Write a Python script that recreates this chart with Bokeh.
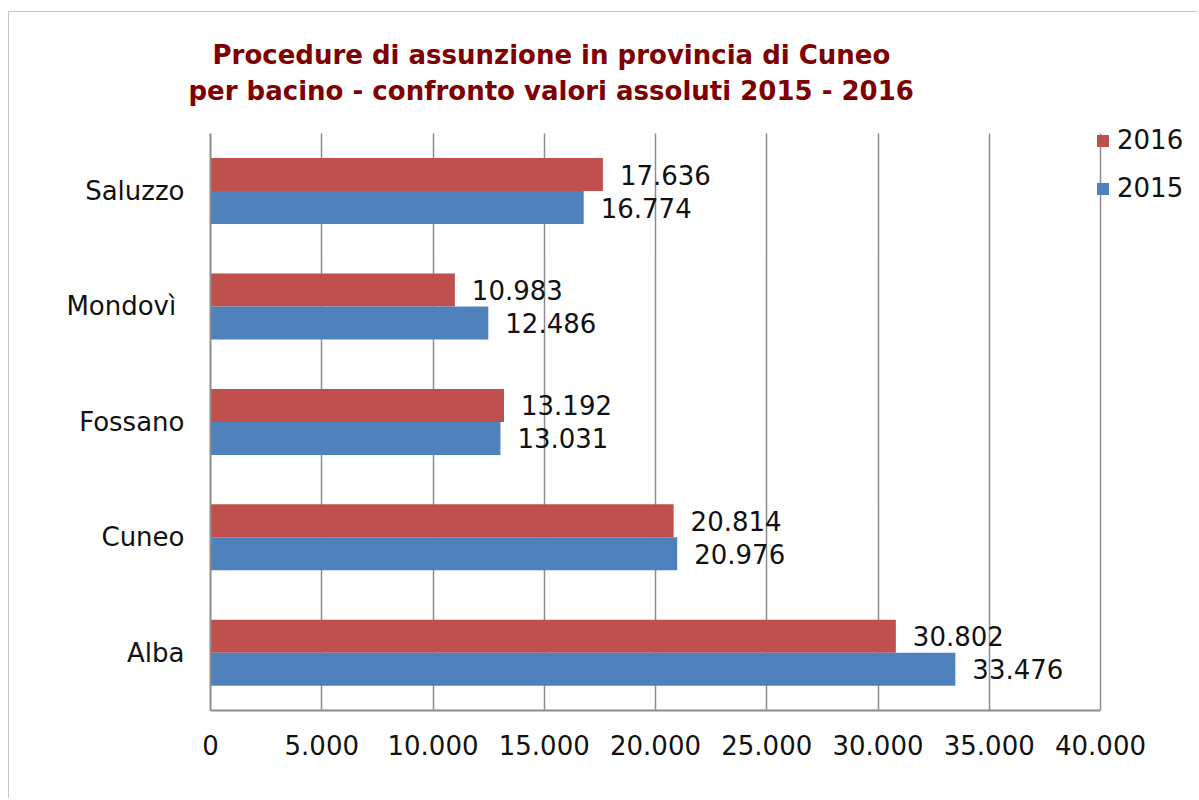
from bokeh.plotting import figure
from bokeh.models import (ColumnDataSource, Range1d, Legend, LegendItem,
                          CustomJSTickFormatter, Title, FixedTicker)
from bokeh.core.properties import value
from bokeh.transform import dodge
from bokeh.embed import file_html
from bokeh.resources import INLINE

categories = ["Alba", "Cuneo", "Fossano", "Mondovì ", "Saluzzo"]
values_2016 = [30802, 20814, 13192, 10983, 17636]
values_2015 = [33476, 20976, 13031, 12486, 16774]
x_ticks = [0, 5000, 10000, 15000, 20000, 25000, 30000, 35000, 40000]
title_lines = ["Procedure di assunzione in provincia di Cuneo",
               "per bacino - confronto valori assoluti 2015 - 2016"]

def fmt(v):
    return f"{v:,}".replace(",", ".")

ypos = list(range(len(categories)))
src = ColumnDataSource(dict(
    y=ypos,
    v16=values_2016,
    v15=values_2015,
    l16=[fmt(v) for v in values_2016],
    l15=[fmt(v) for v in values_2015],
))

FONT = "DejaVu Sans"
RED = "#C0504D"
BLUE = "#4F81BD"
GRID = "#8c8c8c"
FS = "26px"

p = figure(width=1189, height=787, output_backend="svg", toolbar_location=None,
           y_range=Range1d(-0.5, 4.62), x_range=Range1d(0, 44000),
           min_border_left=201, min_border_right=9, min_border_top=107, min_border_bottom=89)
p.margin = (11, 0, 0, 8)
p.outline_line_color = None
p.styles = {"border-top": "1px solid #c4c4c4", "border-left": "1px solid #c4c4c4",
            "box-sizing": "border-box"}

bar_h = 0.286
off = 0.143
r16 = p.hbar(y=dodge("y", off), right="v16", left=0, height=bar_h,
             source=src, fill_color=RED, line_color=None)
r15 = p.hbar(y=dodge("y", -off), right="v15", left=0, height=bar_h,
             source=src, fill_color=BLUE, line_color=None)

p.text(x="v16", y=dodge("y", off), text="l16", source=src,
       x_offset=17, text_baseline="middle", text_align="left",
       text_font=value(FONT), text_font_size=value(FS), text_color="#111111")
p.text(x="v15", y=dodge("y", -off), text="l15", source=src,
       x_offset=17, text_baseline="middle", text_align="left",
       text_font=value(FONT), text_font_size=value(FS), text_color="#111111")

p.xaxis.ticker = FixedTicker(ticks=x_ticks)
p.xaxis.bounds = (x_ticks[0], x_ticks[-1])
p.xaxis.formatter = CustomJSTickFormatter(
    code="return Math.round(tick).toString().replace(/\\B(?=(\\d{3})+(?!\\d))/g, '.');")
p.yaxis.ticker = FixedTicker(ticks=ypos)
p.yaxis.major_label_overrides = {i: c for i, c in zip(ypos, categories)}
p.yaxis.bounds = (-0.5, len(categories) - 0.5)
for ax in (p.xaxis, p.yaxis):
    ax.axis_line_color = GRID
    ax.axis_line_width = 2
    ax.major_tick_line_color = None
    ax.minor_tick_line_color = None
    ax.major_label_text_font = FONT
    ax.major_label_text_font_size = FS
    ax.major_label_text_color = "#111111"
p.xaxis.major_label_standoff = 18
p.yaxis.major_label_standoff = 20

p.xgrid.grid_line_color = GRID
p.xgrid.grid_line_width = 1.5
p.xgrid.ticker = FixedTicker(ticks=x_ticks)
p.xgrid.cross_bounds = (-0.5, len(categories) - 0.5)
p.ygrid.grid_line_color = None

legend = Legend(items=[LegendItem(label="2016", renderers=[r16]),
                       LegendItem(label="2015", renderers=[r15])],
                location=(885, 507), orientation="vertical",
                glyph_width=15, glyph_height=15, label_standoff=7,
                label_height=15, spacing=18, padding=0, margin=0,
                label_text_font=FONT, label_text_font_size=FS,
                label_text_color="#111111", label_text_baseline="middle",
                background_fill_alpha=0, border_line_color=None)
p.add_layout(legend, "center")

# spacer between the frame and the title lines
p.add_layout(Title(text=" ", text_font_size="4px", standoff=7), "above")
for t, off_x, so in [(title_lines[1], -22, 0), (title_lines[0], 2, 8)]:
    p.add_layout(Title(text=t, align="left", offset=off_x,
                       text_font=FONT, text_font_style="bold", text_font_size="26px",
                       text_color="#7F0000", standoff=so), "above")

open("out.html", "w").write(file_html(p, INLINE))
